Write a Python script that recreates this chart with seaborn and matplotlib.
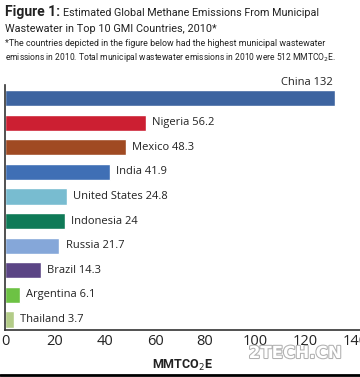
import matplotlib
matplotlib.use("Agg")
import matplotlib.pyplot as plt
import matplotlib.patheffects as pe
from matplotlib import font_manager
import seaborn as sns
import pandas as pd

countries = ["China", "Nigeria", "Mexico", "India", "United States",
             "Indonesia", "Russia", "Brazil", "Argentina", "Thailand"]
emissions = [132, 56.2, 48.3, 41.9, 24.8, 24, 21.7, 14.3, 6.1, 3.7]
bar_colors = ["#3d64a0", "#cc1f32", "#a04a22", "#3f6fb5", "#78bcd0",
              "#0f7a57", "#85a7d9", "#5b4585", "#6dc244", "#b3cc88"]
x_ticks = [0, 20, 40, 60, 80, 100, 120, 140]

df = pd.DataFrame({"country": countries, "value": emissions})

sns.set_theme(style="white")
names = {f.name for f in font_manager.fontManager.ttflist}
body = "Open Sans" if "Open Sans" in names else "DejaVu Sans"
plt.rcParams["font.family"] = [body, "DejaVu Sans"]
narrow = "Liberation Sans Narrow" if "Liberation Sans Narrow" in names else (
    "Roboto" if "Roboto" in names else "Liberation Sans")

fig = plt.figure(figsize=(3.6, 3.77), dpi=100)
ax = fig.add_axes([5 / 360, 1 - 330 / 377, 355 / 360, 245 / 377])

sns.barplot(data=df, x="value", y="country", hue="country", palette=bar_colors,
            legend=False, width=0.66, ax=ax, saturation=1)

ax.set_xlim(0, 142)
ax.set_ylim(9.43, -0.53)
ax.set_xticks(x_ticks)
ax.set_xticklabels([str(t) for t in x_ticks], fontsize=10.5, color="#222222")
ax.set_yticks([])
ax.set_ylabel("")
ax.set_xlabel("MMTCO$_2$E", fontsize=9, fontweight="bold", family=narrow,
              labelpad=6, color="#222222")
ax.tick_params(axis="x", direction="in", length=3, width=1, color="#333333", pad=3)
for s in ["top", "right"]:
    ax.spines[s].set_visible(False)
for s in ["left", "bottom"]:
    ax.spines[s].set_color("#333333")
    ax.spines[s].set_linewidth(1.2)

for i, (c, v) in enumerate(zip(countries, emissions)):
    lab = f"{c} {v:g}"
    if i == 0:
        ax.text(v - 1, i - 0.42, lab, ha="right", va="bottom", fontsize=8, color="#222222")
    else:
        ax.text(v + 2.5, i, lab, ha="left", va="center", fontsize=8, color="#222222")

r = fig.canvas.get_renderer()


def fit_text(x, y, s, right, size, **kw):
    # shrink the font until the line ends near the given pixel column
    t = fig.text(x / 360, 1 - y / 377, s, fontsize=size, family=narrow,
                 color="#222222", **kw)
    w = t.get_window_extent(renderer=r).width
    if x + w > right:
        t.set_fontsize(size * (right - x) / w)
    return t


t1 = fit_text(5, 16, "Figure 1:", 60, 10, fontweight="bold")
bb = t1.get_window_extent(renderer=r)
fit_text(bb.x1 + 3, 16, "Estimated Global Methane Emissions From Municipal", 320, 10)
fit_text(5, 32, "Wastewater in Top 10 GMI Countries, 2010*", 217, 10)
fit_text(5, 46, "*The countries depicted in the figure below had the highest municipal wastewater",
         327, 7)
fit_text(5, 60, "emissions in 2010. Total municipal wastewater emissions in 2010 were 512 MMTCO$_2$E.",
         338, 7)

fig.text(0.82, 1 - 358 / 377, "2TECH.CN", fontsize=12, fontweight="bold", ha="center",
         color="white", family="DejaVu Sans",
         path_effects=[pe.withStroke(linewidth=1.5, foreground="#b0b0b0")])

fig.add_artist(plt.Line2D([0, 1], [1 - 375 / 377] * 2, color="black", lw=2))

fig.savefig("out.png", dpi=100)
